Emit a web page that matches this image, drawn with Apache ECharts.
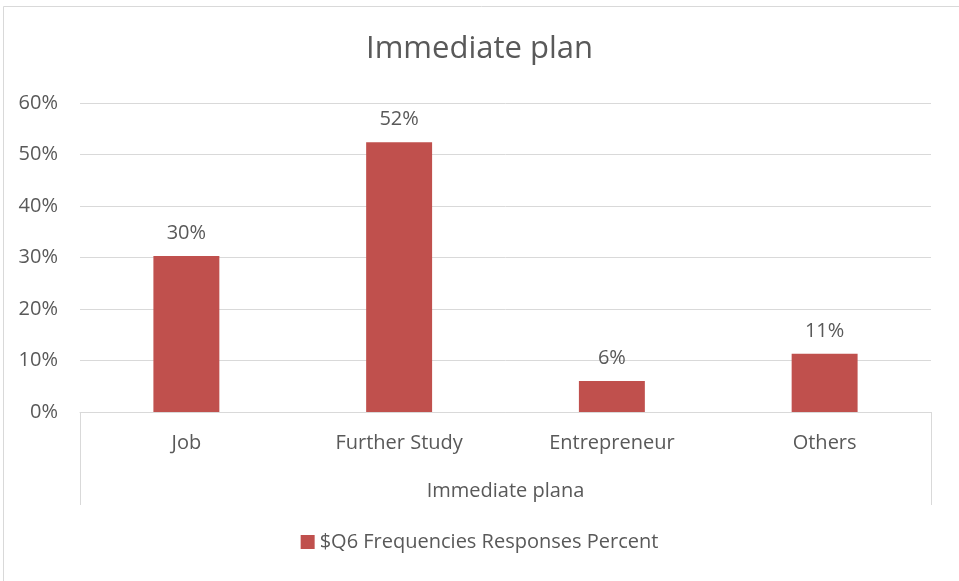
<!DOCTYPE html>
<html>
<head>
<meta charset="utf-8">
<script src="https://cdn.jsdelivr.net/npm/echarts@6/dist/echarts.min.js"></script>
<style>
html,body{margin:0;padding:0;background:#fff;}
#chart{width:959px;height:581px;}
</style>
</head>
<body>
<div id="chart"></div>
<script>
const categories = ['Job', 'Further Study', 'Entrepreneur', 'Others'];
const values = [30.3, 52.4, 6.0, 11.3];
const groupLabel = ['Immediate plana'];
const seriesName = '$Q6 Frequencies Responses Percent';
const titleText = 'Immediate plan';

const FONT = 'Open Sans';
const TXT = '#595959';
const chart = echarts.init(document.getElementById('chart'), null, {renderer: 'canvas'});
chart.setOption({
  animation: false,
  backgroundColor: '#fff',
  textStyle: {fontFamily: FONT},
  title: {
    text: titleText, left: 'center', top: 29,
    textStyle: {fontFamily: FONT, fontSize: 31, fontWeight: 'normal', color: TXT}
  },
  grid: {left: 80, right: 28, top: 103, bottom: 169},
  legend: {
    bottom: 24, left: 'center', icon: 'rect', itemWidth: 14, itemHeight: 14, itemGap: 10,
    textStyle: {fontFamily: FONT, fontSize: 20, color: TXT, padding: [0, 0, 0, 0]},
    data: [seriesName]
  },
  xAxis: [{
    type: 'category', data: categories, position: 'bottom',
    axisLine: {show: true, lineStyle: {color: '#d9d9d9', width: 1}},
    axisTick: {show: false},
    axisLabel: {color: TXT, fontFamily: FONT, fontSize: 20, margin: 21},
    splitLine: {show: false}
  }, {
    type: 'category', data: groupLabel, position: 'bottom',
    axisLine: {show: false},
    axisTick: {show: true, length: 93, lineStyle: {color: '#d9d9d9', width: 1}},
    axisLabel: {color: TXT, fontFamily: FONT, fontSize: 20, margin: 69},
    splitLine: {show: false}
  }],
  yAxis: {
    type: 'value', min: 0, max: 60, interval: 10,
    axisLine: {show: false}, axisTick: {show: false},
    axisLabel: {color: TXT, fontFamily: FONT, fontSize: 20, margin: 22, formatter: v => v + '%'},
    splitLine: {lineStyle: {color: '#d9d9d9', width: 1}}
  },
  series: [{
    name: seriesName, type: 'bar', data: values, xAxisIndex: 0,
    barWidth: '31%',
    itemStyle: {color: '#C0504D'},
    label: {show: true, position: 'top', distance: 13, color: TXT, fontFamily: FONT, fontSize: 20,
      formatter: p => Math.round(p.value) + '%'}
  }],
  graphic: [{
    type: 'rect', left: 1, top: 4, shape: {width: 956, height: 575},
    style: {fill: 'none', stroke: '#d9d9d9', lineWidth: 1}, silent: true
  }]
});
</script>
</body>
</html>
